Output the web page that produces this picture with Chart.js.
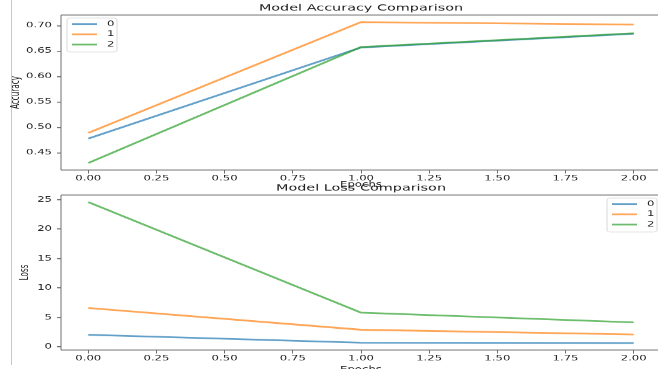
<!DOCTYPE html>
<html>
<head>
<meta charset="utf-8">
<script src="https://cdn.jsdelivr.net/npm/chart.js@4.4.0/dist/chart.umd.min.js"></script>
<style>
    html, body { margin: 0; padding: 0; background: #fff; width: 658px; height: 369px; overflow: hidden; }
    .edge { position: absolute; left: 11px; top: 0; width: 1px; height: 365px; background: #c8c8c8; }
    .panel { position: absolute; left: 0; width: 680px; transform-origin: 0 0; filter: blur(0.4px); }
    .panel canvas { display: block; }
</style>
</head>
<body>
<div class="edge"></div>
<div class="panel" id="accPanel"><canvas id="Accuracy_Chart"></canvas></div>
<div class="panel" id="lossPanel"><canvas id="Loss_Chart"></canvas></div>
<script>
// data
const epochs = [0, 1, 2];
const runLabels = ['0', '1', '2'];
const accuracy0 = [0.478, 0.657, 0.684];
const accuracy1 = [0.489, 0.707, 0.702];
const accuracy2 = [0.430, 0.658, 0.685];
const loss0 = [2.05, 0.70, 0.65];
const loss1 = [6.6, 2.9, 2.1];
const loss2 = [24.6, 5.8, 4.15];
const xTicks = [0, 0.25, 0.5, 0.75, 1, 1.25, 1.5, 1.75, 2];
const accTicks = [0.45, 0.5, 0.55, 0.6, 0.65, 0.7];
const lossTicks = [0, 5, 10, 15, 20, 25];

const lineColors = ['rgba(31, 119, 180, 0.7)', 'rgba(255, 127, 14, 0.7)', 'rgba(44, 160, 44, 0.7)'];

// the screenshot is squashed vertically, so each panel is drawn tall and scaled down
const SQ = 0.62;
const W = 680;
const H = 306;
const areaTop = 15 / SQ;
const areaBottom = 170 / SQ;
const FONT = '"DejaVu Sans", sans-serif';
const textColor = '#222';
const axisColor = '#6e6e6e';

function paddedRange(series) {
    const all = series.flat();
    const lo = Math.min(...all);
    const hi = Math.max(...all);
    const m = (hi - lo) * 0.05;
    return [lo - m, hi + m];
}

const frameLegend = {
    id: 'frameLegend',
    afterDatasetsDraw(chart, args, opts) {
        const ctx = chart.ctx;
        const a = chart.chartArea;
        ctx.save();
        ctx.strokeStyle = axisColor;
        ctx.lineWidth = 1.6;
        ctx.beginPath();
        ctx.moveTo(a.left, a.top); ctx.lineTo(a.right, a.top);
        ctx.moveTo(a.left, a.bottom); ctx.lineTo(a.right, a.bottom);
        ctx.stroke();
        ctx.lineWidth = 1;
        ctx.beginPath();
        ctx.moveTo(a.left, a.top); ctx.lineTo(a.left, a.bottom);
        ctx.moveTo(a.right, a.top); ctx.lineTo(a.right, a.bottom);
        ctx.stroke();

        // legend box inside the axes
        const bw = 50, bh = 34 / SQ;
        const bx = opts.corner === 'left' ? a.left + 6 : a.right - 4 - bw;
        const by = a.top + 3 / SQ;
        ctx.fillStyle = 'rgba(255, 255, 255, 0.8)';
        ctx.strokeStyle = '#d8d8d8';
        ctx.lineWidth = 1;
        ctx.beginPath();
        ctx.roundRect(bx, by, bw, bh, 3);
        ctx.fill();
        ctx.stroke();
        ctx.font = '11.7px ' + FONT;
        ctx.textBaseline = 'middle';
        chart.data.datasets.forEach((ds, i) => {
            const y = by + (6 + i * 10.3) / SQ;
            ctx.strokeStyle = ds.borderColor;
            ctx.lineWidth = 2.8;
            ctx.beginPath();
            ctx.moveTo(bx + 5, y);
            ctx.lineTo(bx + 30, y);
            ctx.stroke();
            ctx.fillStyle = textColor;
            ctx.fillText(ds.label, bx + 40, y);
        });
        ctx.restore();
    }
};

function makeChart(canvasId, panelId, panelTop, cfg) {
    const panel = document.getElementById(panelId);
    panel.style.top = panelTop + 'px';
    panel.style.height = H + 'px';
    panel.style.transform = 'scaleY(' + SQ + ')';
    const canvas = document.getElementById(canvasId);
    canvas.width = W;
    canvas.height = H;

    const xRange = paddedRange([epochs]);
    const yRange = paddedRange(cfg.series);

    new Chart(canvas.getContext('2d'), {
        type: 'line',
        data: {
            datasets: cfg.series.map((vals, i) => ({
                label: runLabels[i],
                data: epochs.map((e, j) => ({ x: e, y: vals[j] })),
                borderColor: lineColors[i],
                backgroundColor: lineColors[i],
                borderWidth: 2.8,
                pointRadius: 0,
                tension: 0,
                fill: false,
                order: 2 - i
            }))
        },
        options: {
            responsive: false,
            animation: false,
            layout: { padding: { left: 0, right: W - 661, top: 0, bottom: 0 } },
            plugins: {
                legend: { display: false },
                tooltip: { enabled: false },
                title: {
                    display: true,
                    text: cfg.title,
                    fullSize: false,
                    color: '#222',
                    font: { family: FONT, size: 14.4, weight: 'normal' },
                    padding: { top: 4.3, bottom: areaTop - 17.28 - 4.3 }
                },
                frameLegend: { corner: cfg.legendCorner }
            },
            scales: {
                x: {
                    type: 'linear',
                    min: xRange[0],
                    max: xRange[1],
                    afterBuildTicks: s => { s.ticks = xTicks.map(v => ({ value: v })); },
                    afterFit: s => { s.height = H - areaBottom; },
                    grid: { drawOnChartArea: false, drawTicks: true, tickLength: 5.6, color: axisColor, lineWidth: 1 },
                    border: { display: false },
                    ticks: {
                        padding: 0.7,
                        maxRotation: 0,
                        autoSkip: false,
                        color: textColor,
                        font: { family: FONT, size: 11.7 },
                        callback: v => v.toFixed(2)
                    },
                    title: {
                        display: true,
                        text: 'Epochs',
                        color: textColor,
                        font: { family: FONT, size: 11.7 },
                        padding: { top: 0, bottom: cfg.xTitlePad }
                    }
                },
                y: {
                    type: 'linear',
                    min: yRange[0],
                    max: yRange[1],
                    afterBuildTicks: s => { s.ticks = cfg.yTicks.map(v => ({ value: v })); },
                    afterFit: s => { s.width = 61; },
                    grid: { drawOnChartArea: false, drawTicks: true, tickLength: 4, color: axisColor, lineWidth: 1.6 },
                    border: { display: false },
                    ticks: {
                        padding: 5,
                        color: textColor,
                        font: { family: FONT, size: 11.7 },
                        callback: cfg.yFormat
                    },
                    title: {
                        display: true,
                        text: cfg.yTitle,
                        color: textColor,
                        font: { family: FONT, size: 11.7 },
                        padding: { top: cfg.yTitlePad, bottom: 0 }
                    }
                }
            }
        },
        plugins: [frameLegend]
    });
}

makeChart('Accuracy_Chart', 'accPanel', 0, {
    title: 'Model Accuracy Comparison',
    series: [accuracy0, accuracy1, accuracy2],
    yTicks: accTicks,
    yFormat: v => v.toFixed(2),
    yTitle: 'Accuracy',
    yTitlePad: 9,
    xTitlePad: 0.6,
    legendCorner: 'left'
});

makeChart('Loss_Chart', 'lossPanel', 180, {
    title: 'Model Loss Comparison',
    series: [loss0, loss1, loss2],
    yTicks: lossTicks,
    yFormat: v => String(Math.round(v)),
    yTitle: 'Loss',
    yTitlePad: 18,
    xTitlePad: -6.6,
    legendCorner: 'right'
});
</script>
</body>
</html>
